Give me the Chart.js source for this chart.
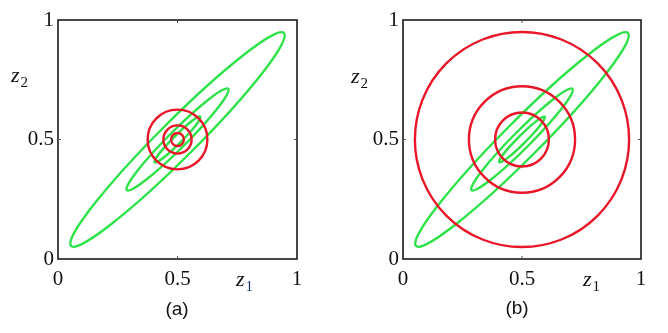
<!DOCTYPE html>
<html lang="en">
<head>
  <meta charset="UTF-8">
  <title>Factorised approximation contours</title>
  <script src="https://cdn.jsdelivr.net/npm/chart.js@4.4.0/dist/chart.umd.min.js"></script>
  <style>
    body {
      margin: 0;
      background: #fff;
      width: 668px;
      height: 333px;
      position: relative;
      overflow: hidden;
    }
    .panel {
      position: absolute;
      top: 0;
      width: 334px;
      height: 333px;
    }
    .lbl {
      position: absolute;
      font-family: 'Liberation Serif', serif;
      font-size: 22px;
      line-height: 22px;
      color: #111;
      white-space: nowrap;
    }
    .lbl i { font-style: italic; }
    .lbl .s {
      font-size: 15px;
      position: relative;
      top: 5px;
      margin-left: 1px;
    }
    .cap {
      position: absolute;
      width: 60px;
      text-align: center;
      font-family: 'Liberation Sans', Arial, sans-serif;
      font-size: 19px;
      line-height: 19px;
      color: #111;
    }
  </style>
</head>
<body>
  <div class="panel" style="left:0"><canvas id="chartA" width="334" height="333"></canvas></div>
  <div class="panel" style="left:334px"><canvas id="chartB" width="334" height="333"></canvas></div>

  <!-- axis names and panel captions -->
  <div class="lbl" style="left:11px; top:64px"><i>z</i><span class="s">2</span></div>
  <div class="lbl" style="left:236px; top:268px"><i>z</i><span class="s" style="color:#1f3370">1</span></div>
  <div class="cap" style="left:147px; top:299px">(a)</div>

  <div class="lbl" style="left:351px; top:65px"><i>z</i><span class="s">2</span></div>
  <div class="lbl" style="left:583px; top:268px"><i>z</i><span class="s">1</span></div>
  <div class="cap" style="left:487px; top:298px">(b)</div>

  <script>
    // axis ticks
    const tickValues = [0, 0.5, 1];
    const tickLabels = ['0', '0.5', '1'];

    // true distribution (green): three contours of a correlated gaussian
    const meanZ1 = 0.5;
    const meanZ2 = 0.5;
    const greenAngleDeg = 45;
    const greenSemiMajor = [0.135, 0.30, 0.63];
    const greenSemiMinor = [0.017, 0.037, 0.077];

    // factorised approximation (red): circle radii for each panel
    const redRadiusA = [0.027, 0.059, 0.125];
    const redRadiusB = [0.113, 0.223, 0.450];

    const greenColor = 'rgb(45, 226, 72)';
    const redColor = 'rgb(232, 22, 40)';

    // draws box, inward ticks and the contours using the chart scales
    const contourPlugin = (redRadii) => ({
      id: 'contours',
      afterDatasetsDraw(chart) {
        const ctx = chart.ctx;
        const xs = chart.scales.x;
        const ys = chart.scales.y;
        const cx = xs.getPixelForValue(meanZ1);
        const cy = ys.getPixelForValue(meanZ2);
        const kx = xs.getPixelForValue(1) - xs.getPixelForValue(0);
        const ky = ys.getPixelForValue(1) - ys.getPixelForValue(0);

        const ellipse = (a, b, angle, color) => {
          ctx.save();
          ctx.beginPath();
          ctx.translate(cx, cy);
          ctx.scale(kx, ky);
          ctx.rotate(angle);
          ctx.ellipse(0, 0, a, b, 0, 0, Math.PI * 2);
          ctx.restore();
          ctx.save();
          ctx.lineWidth = 2.4;
          ctx.strokeStyle = color;
          ctx.stroke();
          ctx.restore();
        };

        greenSemiMajor.forEach((a, i) => ellipse(a, greenSemiMinor[i], greenAngleDeg * Math.PI / 180, greenColor));
        redRadii.forEach(r => ellipse(r, r, 0, redColor));

        // frame
        const {left, right, top, bottom} = chart.chartArea;
        ctx.save();
        ctx.strokeStyle = '#1a1a1a';
        ctx.lineWidth = 1.6;
        ctx.strokeRect(left, top, right - left, bottom - top);

        // small inward ticks at the middle value
        ctx.strokeStyle = '#555';
        ctx.lineWidth = 1;
        ctx.beginPath();
        const mx = xs.getPixelForValue(0.5);
        const my = ys.getPixelForValue(0.5);
        ctx.moveTo(mx, bottom); ctx.lineTo(mx, bottom - 3);
        ctx.moveTo(mx, top); ctx.lineTo(mx, top + 3);
        ctx.moveTo(left, my); ctx.lineTo(left + 3, my);
        ctx.moveTo(right, my); ctx.lineTo(right - 3, my);
        ctx.stroke();
        ctx.restore();
      }
    });

    const tickFont = { family: "'Liberation Serif', serif", size: 21 };

    function axisOptions(fit) {
      return {
        type: 'linear',
        min: 0,
        max: 1,
        afterBuildTicks: s => { s.ticks = tickValues.map(v => ({ value: v })); },
        afterFit: fit,
        grid: { display: false, drawTicks: false },
        border: { display: false },
        ticks: {
          color: '#111',
          font: tickFont,
          padding: 8,
          callback: v => tickLabels[tickValues.indexOf(v)]
        }
      };
    }

    function makePanel(id, redRadii, yAxisWidth, rightPad) {
      const x = axisOptions(s => { s.height = 74; });
      const y = axisOptions(s => { s.width = yAxisWidth; });
      y.ticks.padding = 4;
      return new Chart(document.getElementById(id), {
        type: 'scatter',
        data: { datasets: [] },
        options: {
          responsive: false,
          animation: false,
          layout: { padding: { top: 20, right: rightPad, left: 0, bottom: 0 } },
          plugins: { legend: { display: false }, tooltip: { enabled: false } },
          scales: { x, y }
        },
        plugins: [contourPlugin(redRadii)]
      });
    }

    makePanel('chartA', redRadiusA, 58, 37);
    makePanel('chartB', redRadiusB, 69, 27);
  </script>
</body>
</html>
